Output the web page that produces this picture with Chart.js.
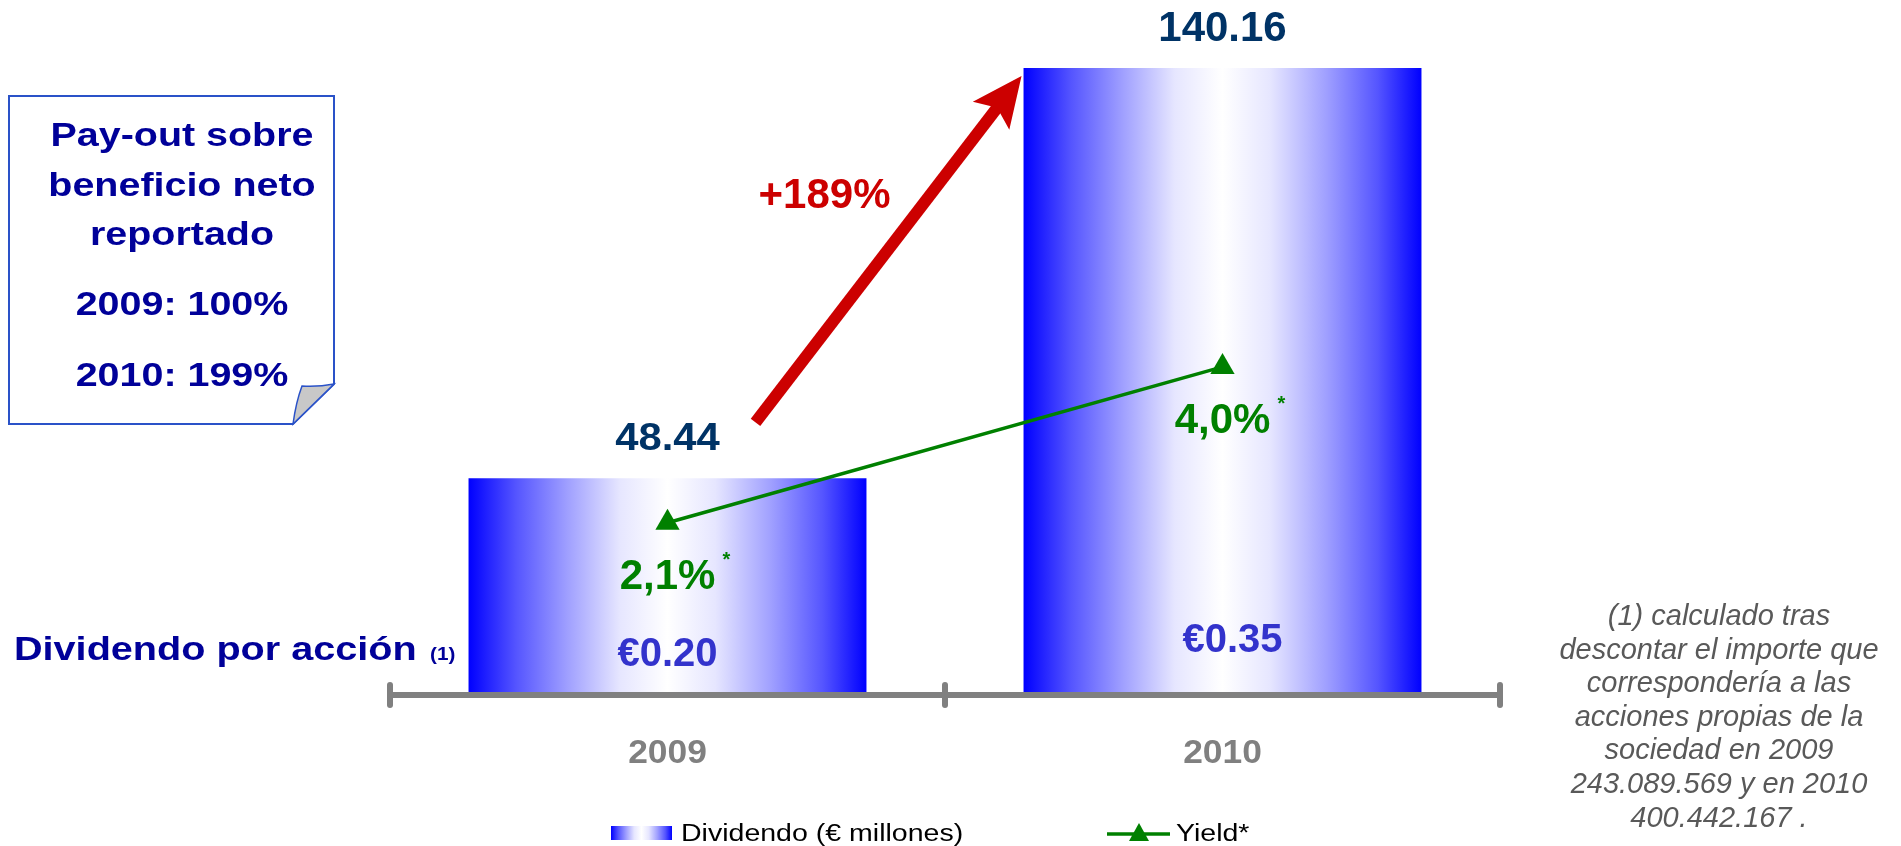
<!DOCTYPE html>
<html>
<head>
<meta charset="utf-8">
<script src="https://cdn.jsdelivr.net/npm/chart.js@4/dist/chart.umd.min.js"></script>
<style>
  body { margin: 0; background: #fff; }
  #wrap { position: relative; width: 1901px; height: 846px; overflow: hidden; }
  #chart { position: absolute; left: 0; top: 0; }
  #note { position: absolute; left: 0; top: 0; }
  .pay { position: absolute; left: -18px; width: 400px; text-align: center; white-space: nowrap;
         font: bold 34px "Liberation Sans", Arial, sans-serif; line-height: 40px; color: #000099;
         transform: scaleX(1.16); transform-origin: 200px 0; }
  #foot { position: absolute; left: 1539px; top: 599px; width: 360px; text-align: center; white-space: nowrap;
          font: italic 29px "Liberation Sans", Arial, sans-serif; line-height: 33.6px; color: #595959; }
</style>
</head>
<body>
<div id="wrap">
  <canvas id="chart" width="1901" height="846"></canvas>

  <svg id="note" width="340" height="430">
    <path d="M9,96 H334 V384 L293,424 H9 Z" fill="#fff" stroke="#2a52c8" stroke-width="2"/>
    <path d="M293,424 Q296,402 302,386 Q318,387 334,384 Z" fill="#c8c8c8" stroke="#2a52c8" stroke-width="1.5"/>
  </svg>
  <div class="pay" style="top:114px">Pay-out sobre</div>
  <div class="pay" style="top:164px">beneficio neto</div>
  <div class="pay" style="top:213px">reportado</div>
  <div class="pay" style="top:283px">2009: 100%</div>
  <div class="pay" style="top:354px">2010: 199%</div>

  <div id="foot">(1) calculado tras<br>descontar el importe que<br>correspondería a las<br>acciones propias de la<br>sociedad en 2009<br>243.089.569 y en 2010<br>400.442.167 .</div>
</div>

<script>
const categories = ['2009', '2010'];
const dividendMillions = [48.44, 140.16];
const yieldPct = [2.1, 4.0];
const perShare = [0.20, 0.35];
const growthLabel = '+189%';

const F = '"Liberation Sans", Arial, sans-serif';
const BAR_PCT = 0.717;

// per-label style tweaks
const valueFont = [38, 42];
const valueStretch = [1.1, 1.0];
const perShareOffset = [[0, -40], [10, -54]];

function txt(ctx, s, x, y, font, color, sx, align, base) {
  ctx.save();
  ctx.font = font;
  ctx.fillStyle = color;
  ctx.textAlign = align || 'center';
  ctx.textBaseline = base || 'middle';
  ctx.translate(x, y);
  ctx.scale(sx || 1, 1);
  ctx.fillText(s, 0, 0);
  ctx.restore();
}

function blueGradient(ctx, x0, x1) {
  const g = ctx.createLinearGradient(x0, 0, x1, 0);
  g.addColorStop(0, '#0000FF');
  g.addColorStop(0.12, '#5555FF');
  g.addColorStop(0.25, '#A0A0FF');
  g.addColorStop(0.38, '#E6E6FF');
  g.addColorStop(0.5, '#FFFFFF');
  g.addColorStop(0.62, '#E6E6FF');
  g.addColorStop(0.76, '#A0A0FF');
  g.addColorStop(0.89, '#5555FF');
  g.addColorStop(1, '#0000FF');
  return g;
}

const decor = {
  id: 'decor',
  afterDatasetsDraw(chart) {
    const { ctx, chartArea: ca, scales: { x, y } } = chart;
    const bars = chart.getDatasetMeta(0).data;
    const pts = chart.getDatasetMeta(1).data;
    const yb = y.getPixelForValue(0);

    // category axis with end caps
    ctx.save();
    ctx.strokeStyle = '#808080';
    ctx.lineWidth = 6;
    ctx.beginPath(); ctx.moveTo(ca.left, yb); ctx.lineTo(ca.right, yb); ctx.stroke();
    ctx.lineCap = 'round';
    const mid = (x.getPixelForValue(0) + x.getPixelForValue(1)) / 2;
    [ca.left, mid, ca.right].forEach(px => {
      ctx.beginPath(); ctx.moveTo(px, yb - 10); ctx.lineTo(px, yb + 10); ctx.stroke();
    });
    ctx.restore();

    categories.forEach((c, i) => {
      txt(ctx, c, x.getPixelForValue(i), yb + 59, 'bold 34px ' + F, '#808080', 1.04);
    });

    // values above bars
    bars.forEach((b, i) => {
      txt(ctx, dividendMillions[i].toFixed(2), b.x, b.y - 39, 'bold ' + valueFont[i] + 'px ' + F, '#003366', valueStretch[i]);
      const o = perShareOffset[i];
      txt(ctx, '€' + perShare[i].toFixed(2), b.x + o[0], yb + o[1], 'bold 40px ' + F, '#3333CC', 1);
    });

    // yield labels
    pts.forEach((p, i) => {
      const s = yieldPct[i].toFixed(1).replace('.', ',') + '%';
      txt(ctx, s, p.x, p.y + 55, 'bold 42px ' + F, '#008000', 1);
      txt(ctx, '*', p.x + 59, p.y + 38, 'bold 20px ' + F, '#008000', 1);
    });

    // growth arrow between bar tops
    const b0 = bars[0], b1 = bars[1];
    const tail = { x: b0.x + 88, y: b0.y - 56 };
    const tip = { x: b1.x - b1.width / 2 - 2, y: b1.y + 8 };
    const ang = Math.atan2(tip.y - tail.y, tip.x - tail.x);
    const dx = Math.cos(ang), dy = Math.sin(ang);
    const px = -dy, py = dx;
    const hl = 50, hw = 23;
    ctx.save();
    ctx.strokeStyle = '#CC0000';
    ctx.fillStyle = '#CC0000';
    ctx.lineWidth = 12;
    ctx.beginPath();
    ctx.moveTo(tail.x, tail.y);
    ctx.lineTo(tip.x - dx * (hl - 12), tip.y - dy * (hl - 12));
    ctx.stroke();
    ctx.beginPath();
    ctx.moveTo(tip.x, tip.y);
    ctx.lineTo(tip.x - dx * hl + px * hw, tip.y - dy * hl + py * hw);
    ctx.lineTo(tip.x - dx * (hl - 10), tip.y - dy * (hl - 10));
    ctx.lineTo(tip.x - dx * hl - px * hw, tip.y - dy * hl - py * hw);
    ctx.closePath();
    ctx.fill();
    ctx.restore();
    const mx = (tail.x + tip.x) / 2, my = (tail.y + tip.y) / 2;
    txt(ctx, growthLabel, mx - 64, my - 53, 'bold 42px ' + F, '#CC0000', 1);

    // row label for per-share dividend
    txt(ctx, 'Dividendo por acción', 14, 660, 'bold 33px ' + F, '#000099', 1.2, 'left', 'alphabetic');
    txt(ctx, '(1)', 430, 660, 'bold 18px ' + F, '#000099', 1.15, 'left', 'alphabetic');
  },
  afterDraw(chart) {
    const ctx = chart.ctx;
    const ds = chart.data.datasets;
    // legend item 1: gradient swatch
    ctx.save();
    ctx.fillStyle = blueGradient(ctx, 611, 672);
    ctx.fillRect(611, 826, 61, 14);
    ctx.restore();
    txt(ctx, ds[0].label, 681, 841, '23px ' + F, '#000000', 1.24, 'left', 'alphabetic');
    // legend item 2: line with triangle
    ctx.save();
    ctx.strokeStyle = '#008000';
    ctx.fillStyle = '#008000';
    ctx.lineWidth = 3.5;
    ctx.beginPath(); ctx.moveTo(1107, 834); ctx.lineTo(1170, 834); ctx.stroke();
    ctx.beginPath(); ctx.moveTo(1139, 823); ctx.lineTo(1149, 841); ctx.lineTo(1129, 841); ctx.closePath(); ctx.fill();
    ctx.restore();
    txt(ctx, ds[1].label, 1176, 841, '23px ' + F, '#000000', 1.24, 'left', 'alphabetic');
  }
};

new Chart(document.getElementById('chart'), {
  data: {
    labels: categories,
    datasets: [
      {
        type: 'bar',
        label: 'Dividendo (€ millones)',
        data: dividendMillions,
        yAxisID: 'y',
        order: 2,
        barPercentage: BAR_PCT,
        categoryPercentage: 1,
        backgroundColor: (c) => {
          const chart = c.chart;
          const xs = chart.scales.x;
          if (!chart.chartArea || !xs || c.dataIndex === undefined) return '#0000FF';
          const cx = xs.getPixelForValue(c.dataIndex);
          const w = xs.width / categories.length * BAR_PCT;
          return blueGradient(chart.ctx, cx - w / 2, cx + w / 2);
        },
        borderWidth: 0
      },
      {
        type: 'line',
        label: 'Yield*',
        data: yieldPct,
        yAxisID: 'y2',
        order: 1,
        borderColor: '#008000',
        borderWidth: 3.5,
        pointStyle: 'triangle',
        pointRadius: 14,
        pointBackgroundColor: '#008000',
        pointBorderColor: '#008000',
        pointBorderWidth: 0,
        tension: 0
      }
    ]
  },
  options: {
    responsive: false,
    animation: false,
    layout: { padding: { left: 390, right: 401, top: 24, bottom: 151 } },
    plugins: { legend: { display: false }, tooltip: { enabled: false } },
    scales: {
      x: { type: 'category', display: false, offset: true },
      y: { display: false, min: 0, max: 150 },
      y2: { display: false, min: 0, max: 8.18, position: 'right' }
    }
  },
  plugins: [decor]
});
</script>
</body>
</html>
